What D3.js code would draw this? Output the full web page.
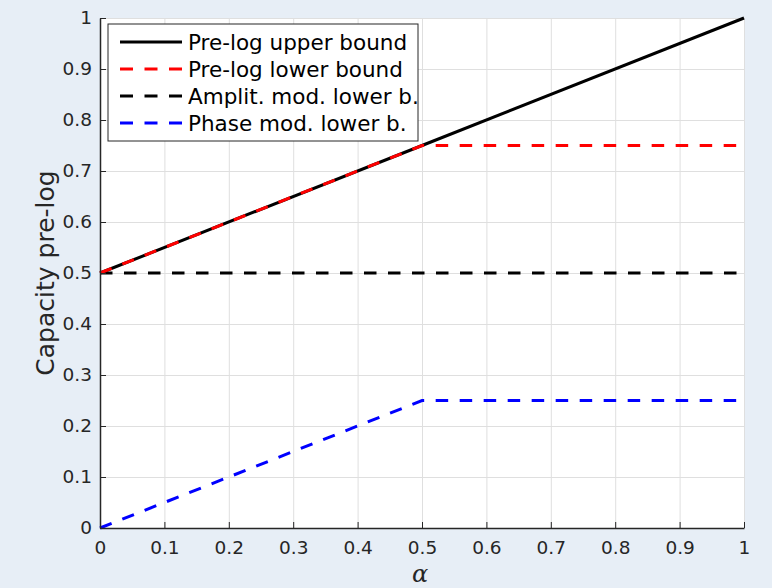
<!DOCTYPE html>
<html>
<head>
<meta charset="utf-8">
<script src="https://d3js.org/d3.v7.min.js"></script>
<style>
body { margin: 0; background: #e7eef6; }
svg { display: block; }
.axis path, .axis line { stroke: #262626; }
.grid line { stroke: #dfdfdf; stroke-width: 1; }
.grid path { stroke: none; }
</style>
</head>
<body>
<svg id="chart" width="772" height="588"></svg>
<script>
// data
var alpha = [0, 0.5, 1];
var upperBound = [0.5, 0.75, 1];
var lowerBound = [0.5, 0.75, 0.75];
var amplitLower = [0.5, 0.5, 0.5];
var phaseLower = [0, 0.25, 0.25];
var tickVals = [0, 0.1, 0.2, 0.3, 0.4, 0.5, 0.6, 0.7, 0.8, 0.9, 1];

var dashed = "12.5,11.5";
var series = [
	{name: "Pre-log upper bound", vals: upperBound, color: "#000000", dash: null},
	{name: "Pre-log lower bound", vals: lowerBound, color: "#ff0000", dash: dashed},
	{name: "Amplit. mod. lower b.", vals: amplitLower, color: "#000000", dash: dashed},
	{name: "Phase mod. lower b.", vals: phaseLower, color: "#0000ff", dash: dashed}
];

var margin = {top: 18, left: 100, right: 28, bottom: 60};
var width = 772 - margin.left - margin.right,
	height = 588 - margin.top - margin.bottom;

var svg = d3.select("#chart");
var g = svg.append("g").attr("transform", "translate(" + margin.left + "," + margin.top + ")");

g.append("rect").attr("width", width).attr("height", height).attr("fill", "#fff");

var x = d3.scaleLinear().domain([0, 1]).range([0, width]);
var y = d3.scaleLinear().domain([0, 1]).range([height, 0]);

var fmt = function(d){ return d === 0 ? "0" : d === 1 ? "1" : d3.format(".1f")(d); };

// grid
g.append("g").attr("class", "grid")
	.attr("transform", "translate(0," + height + ")")
	.call(d3.axisBottom(x).tickValues(tickVals).tickSize(-height).tickFormat(""));
g.append("g").attr("class", "grid")
	.call(d3.axisLeft(y).tickValues(tickVals).tickSize(-width).tickFormat(""));

// lines
var line = d3.line()
	.x(function(d){ return x(d[0]); })
	.y(function(d){ return y(d[1]); });

function toPoints(vals){ return alpha.map(function(a, i){ return [a, vals[i]]; }); }

// draw back to front: phase, amplit, upper (solid), then red dashed on top
[series[3], series[2], series[0], series[1]].forEach(function(s){
	g.append("path")
		.datum(toPoints(s.vals))
		.attr("fill", "none")
		.attr("stroke", s.color)
		.attr("stroke-width", 3)
		.attr("stroke-dasharray", s.dash)
		.attr("d", line);
});

// axes
var xAxis = g.append("g").attr("class", "axis")
	.attr("transform", "translate(0," + height + ")")
	.call(d3.axisBottom(x).tickValues(tickVals).tickSize(-6).tickSizeOuter(0).tickPadding(13).tickFormat(fmt));
var yAxis = g.append("g").attr("class", "axis")
	.call(d3.axisLeft(y).tickValues(tickVals).tickSize(-6).tickSizeOuter(0).tickPadding(8).tickFormat(fmt));
[xAxis, yAxis].forEach(function(ax){
	ax.attr("font-family", "'DejaVu Sans', sans-serif").attr("font-size", 18.5);
	ax.selectAll(".tick text").attr("fill", "#262626");
	ax.select(".domain").attr("stroke-width", 1.5);
});

// axis labels
svg.append("text")
	.attr("transform", "translate(54," + (margin.top + height / 2) + ") rotate(-90)")
	.attr("text-anchor", "middle")
	.attr("font-family", "'DejaVu Sans', sans-serif")
	.attr("font-size", 25)
	.attr("fill", "#262626")
	.text("Capacity pre-log");
svg.append("text")
	.attr("x", 420)
	.attr("y", 582)
	.attr("text-anchor", "middle")
	.attr("font-family", "'DejaVu Serif', serif")
	.attr("font-style", "italic")
	.attr("font-size", 24)
	.attr("fill", "#262626")
	.text("α");

// legend
var leg = g.append("g").attr("transform", "translate(8,6)");
leg.append("rect").attr("width", 310).attr("height", 117)
	.attr("fill", "#fff").attr("stroke", "#262626").attr("stroke-width", 1);
series.forEach(function(s, i){
	var ly = 18 + i * 27;
	leg.append("line")
		.attr("x1", 12).attr("x2", 74).attr("y1", ly).attr("y2", ly)
		.attr("stroke", s.color).attr("stroke-width", 3)
		.attr("stroke-dasharray", s.dash ? "13,11.5" : null);
	leg.append("text")
		.attr("x", 80).attr("y", ly).attr("dy", "0.36em")
		.attr("font-family", "'DejaVu Sans', sans-serif")
		.attr("font-size", 21.5)
		.attr("fill", "#000")
		.text(s.name);
});
</script>
</body>
</html>
